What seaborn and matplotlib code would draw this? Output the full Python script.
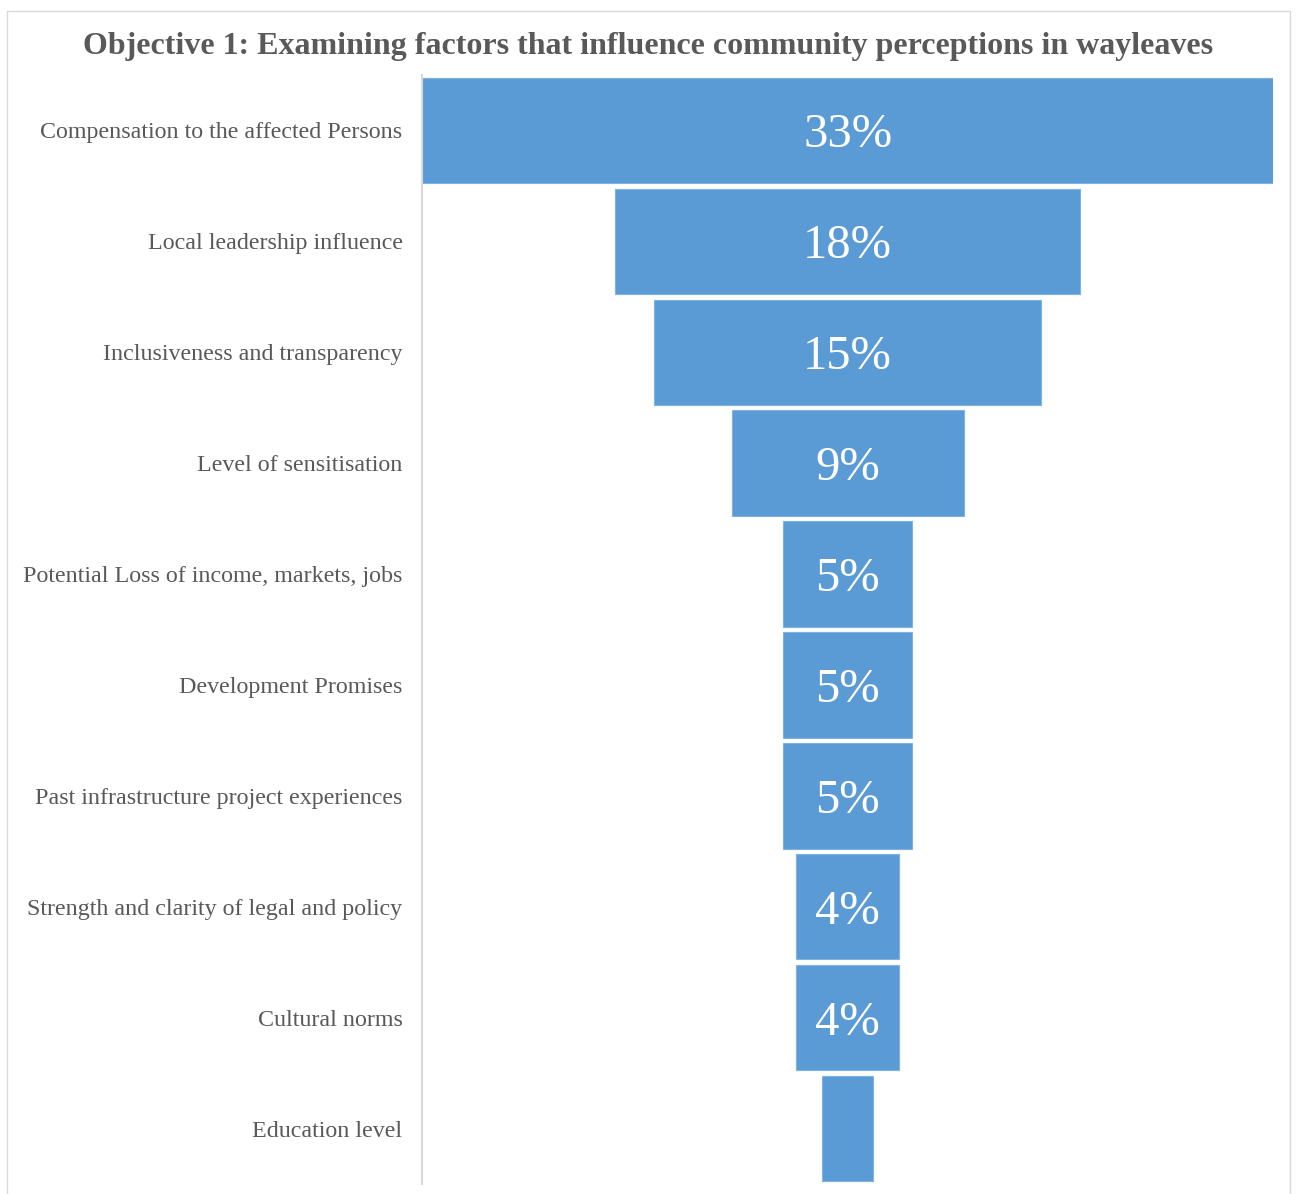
import matplotlib
matplotlib.use("Agg")
import matplotlib.pyplot as plt
import seaborn as sns
import pandas as pd

# Funnel data (percent of respondents)
factors = [
    "Compensation to the affected Persons",
    "Local leadership influence",
    "Inclusiveness and transparency",
    "Level of sensitisation",
    "Potential Loss of income, markets, jobs",
    "Development Promises",
    "Past infrastructure project experiences",
    "Strength and clarity of legal and policy",
    "Cultural norms",
    "Education level",
]
shares = [33, 18, 15, 9, 5, 5, 5, 4, 4, 2]
labels = ["33%", "18%", "15%", "9%", "5%", "5%", "5%", "4%", "4%", ""]

df = pd.DataFrame({"factor": factors, "share": shares, "label": labels})
top = df["share"].max()
df["offset"] = (top - df["share"]) / 2

sns.set_style("white")
plt.rcParams["font.family"] = ["Liberation Serif", "DejaVu Serif"]

fig = plt.figure(figsize=(12.97, 11.94), dpi=100)
ax = fig.add_axes([0.3254, 0.0084, 0.6562, 0.9288])

sns.barplot(data=df, x="share", y="factor", color="#5B9BD5", width=0.95,
            saturation=1, edgecolor="#7FB2E0", linewidth=0.8, ax=ax)

# centre each bar -> funnel
for bar, off in zip(ax.patches, df["offset"]):
    bar.set_x(off)

for i, row in df.iterrows():
    if row["label"]:
        ax.text(top / 2, i, row["label"], ha="center", va="center_baseline",
                color="white", fontsize=35)

ax.set_xlim(0, top)
ax.set_xlabel("")
ax.set_ylabel("")
ax.set_xticks([])
ax.tick_params(axis="y", length=0, pad=14, labelsize=17.3, labelcolor="#595959")
for s in ["top", "right", "bottom"]:
    ax.spines[s].set_visible(False)
ax.spines["left"].set_color("#D9D9D9")
ax.spines["left"].set_linewidth(1.5)

fig.text(0.5, 0.961, "Objective 1: Examining factors that influence community perceptions in wayleaves",
         ha="center", va="center", fontsize=23, fontweight="bold", color="#595959")

# chart area border
border = plt.Rectangle((0.0054, -0.01), 0.989, 1.001, transform=fig.transFigure,
                       fill=False, edgecolor="#D9D9D9", linewidth=1)
fig.add_artist(border)

fig.savefig("out.png", dpi=100, facecolor="white")
